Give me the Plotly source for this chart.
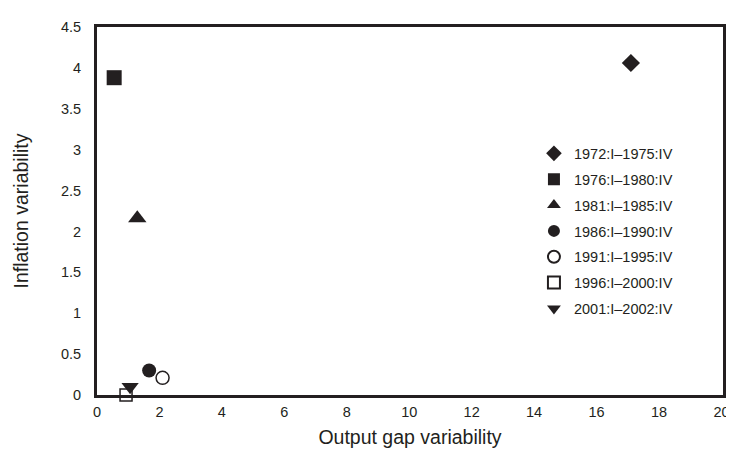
import plotly.graph_objects as go

periods = ["1972:I\u20131975:IV", "1976:I\u20131980:IV", "1981:I\u20131985:IV",
           "1986:I\u20131990:IV", "1991:I\u20131995:IV", "1996:I\u20132000:IV",
           "2001:I\u20132002:IV"]
output_gap_var = [17.1, 0.55, 1.29, 1.67, 2.1, 0.93, 1.06]
inflation_var = [4.06, 3.88, 2.16, 0.3, 0.21, 0.0, 0.1]

symbols = ["diamond", "square", "triangle-up", "circle", "circle", "square", "triangle-down"]
sizes = [14, 15, 16, 14, 13, 12, 15]
fills = ["#231f20", "#231f20", "#231f20", "#231f20", "white", "white", "#231f20"]
linew = [0, 0, 0, 0, 1.5, 1.5, 0]

x_ticks = list(range(0, 21, 2))
y_ticks = [0, 0.5, 1, 1.5, 2, 2.5, 3, 3.5, 4, 4.5]
y_tick_text = ["0", "0.5", "1", "1.5", "2", "2.5", "3", "3.5", "4", "4.5"]

fig = go.Figure()
for i, p in enumerate(periods):
    fig.add_trace(go.Scatter(
        x=[output_gap_var[i]], y=[inflation_var[i]], mode="markers", name=p,
        legendgroup=p,
        marker=dict(symbol=symbols[i], size=sizes[i], color=fills[i],
                    line=dict(color="#231f20", width=linew[i])),
        cliponaxis=False,
    ))

fig.update_layout(
    width=734, height=452,
    margin=dict(l=79, r=19, t=11, b=65),
    paper_bgcolor="white", plot_bgcolor="white",
    font=dict(family="Liberation Sans, Arial, sans-serif", color="#231f20", size=14.5),
    showlegend=True,
    legend=dict(x=0.698, y=0.70, xanchor="left", yanchor="top",
                bgcolor="rgba(0,0,0,0)", font=dict(size=14.5),
                tracegroupgap=4, itemsizing="constant"),
    xaxis=dict(range=[0, 20.05], tickvals=x_ticks, showgrid=False, zeroline=False,
               showline=True, mirror=True, linewidth=3, linecolor="#231f20",
               ticks="", ticklabelstandoff=2,
               title=dict(text="Output gap variability", font=dict(size=19.5), standoff=11)),
    yaxis=dict(range=[0, 4.5], tickvals=y_ticks, ticktext=y_tick_text, showgrid=False,
               zeroline=False, showline=True, mirror=True, linewidth=3,
               linecolor="#231f20", ticks="", ticklabelstandoff=10,
               title=dict(text="Inflation variability", font=dict(size=19.5), standoff=28)),
)

fig.write_html("out.html")
